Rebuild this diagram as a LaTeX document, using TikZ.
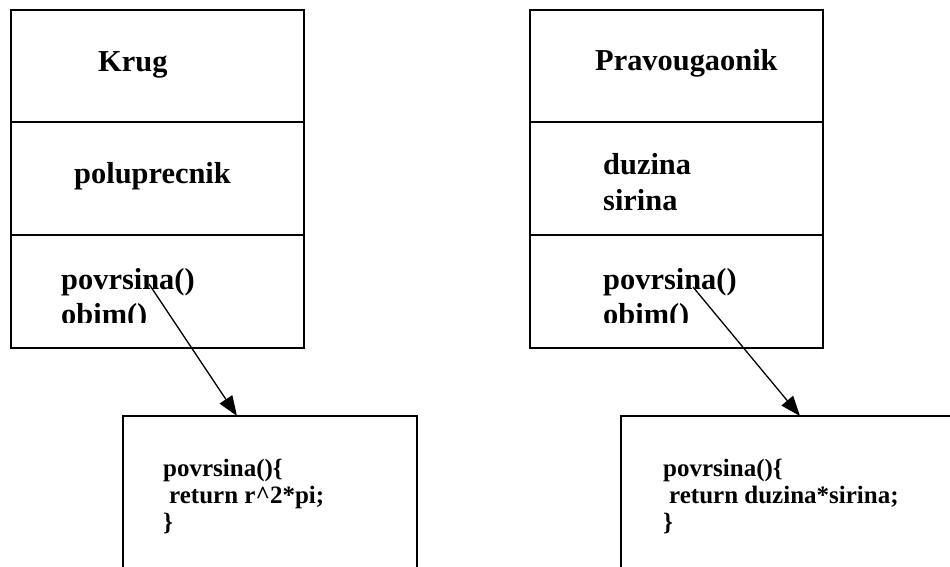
\documentclass[tikz,border=0pt]{standalone}
\usepackage{fontspec}
\setmainfont{Liberation Serif}
\usetikzlibrary{arrows.meta}
\begin{document}
\begin{tikzpicture}[x=1pt,y=-1pt,
  frame/.style={draw=black, line width=1.6pt},
  member/.style={anchor=base west, inner sep=0pt, font=\fontsize{30.4}{34}\selectfont\bfseries},
  codeline/.style={anchor=base west, inner sep=0pt, font=\fontsize{25}{27}\selectfont\bfseries},
  link/.style={line width=1.3pt, -{Triangle[length=20pt,width=15pt]}}]
\useasboundingbox (0,0) rectangle (950,567);

% class Krug
\draw[frame] (11,10) rectangle (304,348);
\draw[frame] (11,122) -- (304,122);
\draw[frame] (11,235) -- (304,235);
\node[member] (krug) at (98,72) {Krug};
\node[member] (krugattr) at (74,183) {poluprecnik};
\node[member] (krugpov) at (61,289) {povrsina()};
\begin{scope}
  \clip (11,235) rectangle (304,322);
  \node[member] (krugobim) at (61,324) {obim()};
\end{scope}

% class Pravougaonik
\draw[frame] (530,10) rectangle (823,348);
\draw[frame] (530,122) -- (823,122);
\draw[frame] (530,235) -- (823,235);
\node[member] (prav) at (595,71) {Pravougaonik};
\node[member] (pravduz) at (603,175) {duzina};
\begin{scope}
  \clip (530,122) rectangle (823,212);
  \node[member] (pravsir) at (603,210) {sirina};
\end{scope}
\node[member] (pravpov) at (603,289) {povrsina()};
\begin{scope}
  \clip (530,235) rectangle (823,322);
  \node[member] (pravobim) at (603,324) {obim()};
\end{scope}

% method bodies (boxes run past the lower edge)
\draw[frame] (123,600) -- (123,416) -- (417,416) -- (417,600);
\draw[frame] (621,600) -- (621,416) -- (980,416);
\node[codeline] (k1) at (163,476) {povrsina()\{};
\node[codeline] (k2) at (169,503) {return r\^{}2*pi;};
\node[codeline] (k3) at (163,530) {\}};
\node[codeline] (p1) at (663,476) {povrsina()\{};
\node[codeline] (p2) at (669,503) {return duzina*sirina;};
\node[codeline] (p3) at (663,530) {\}};

% links from the method name to its body
\coordinate (krugsrc) at (149,284);
\coordinate (krugdst) at (237,416);
\coordinate (pravsrc) at (693,287);
\coordinate (pravdst) at (800,416);
\draw[link] (krugsrc) -- (krugdst);
\draw[link] (pravsrc) -- (pravdst);
\end{tikzpicture}
\end{document}
